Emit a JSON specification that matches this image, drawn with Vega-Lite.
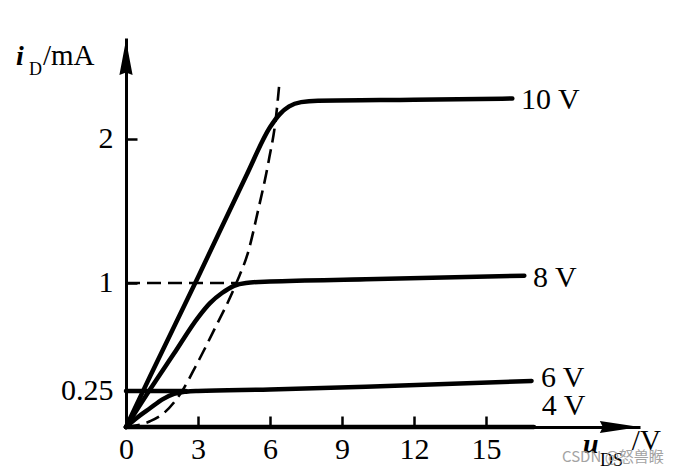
{
  "$schema": "https://vega.github.io/schema/vega-lite/v6.json",
  "width": 514,
  "height": 389,
  "autosize": {"type": "none"},
  "padding": {"left": 126, "top": 38, "right": 37, "bottom": 46},
  "background": "white",
  "config": {"view": {"stroke": null}, "font": "Liberation Serif"},
  "datasets": {
    "curves": [
      {"series": "10V", "u": 0, "i": 0},
      {"series": "10V", "u": 1, "i": 0.35},
      {"series": "10V", "u": 3, "i": 1.04},
      {"series": "10V", "u": 5, "i": 1.74},
      {"series": "10V", "u": 6, "i": 2.08},
      {"series": "10V", "u": 6.4, "i": 2.17},
      {"series": "10V", "u": 6.8, "i": 2.225},
      {"series": "10V", "u": 7.3, "i": 2.255},
      {"series": "10V", "u": 8, "i": 2.265},
      {"series": "10V", "u": 12, "i": 2.272},
      {"series": "10V", "u": 16.1, "i": 2.28},
      {"series": "8V", "u": 0, "i": 0},
      {"series": "8V", "u": 1, "i": 0.26},
      {"series": "8V", "u": 2, "i": 0.51},
      {"series": "8V", "u": 3, "i": 0.76},
      {"series": "8V", "u": 3.5, "i": 0.86},
      {"series": "8V", "u": 4, "i": 0.93},
      {"series": "8V", "u": 4.5, "i": 0.98},
      {"series": "8V", "u": 5, "i": 1.0},
      {"series": "8V", "u": 6, "i": 1.01},
      {"series": "8V", "u": 10, "i": 1.025},
      {"series": "8V", "u": 16.6, "i": 1.05},
      {"series": "6V", "u": 0, "i": 0},
      {"series": "6V", "u": 0.5, "i": 0.07},
      {"series": "6V", "u": 1, "i": 0.13},
      {"series": "6V", "u": 1.5, "i": 0.19},
      {"series": "6V", "u": 2, "i": 0.23},
      {"series": "6V", "u": 2.5, "i": 0.245},
      {"series": "6V", "u": 3, "i": 0.25},
      {"series": "6V", "u": 6, "i": 0.26},
      {"series": "6V", "u": 10, "i": 0.28},
      {"series": "6V", "u": 16.9, "i": 0.32},
      {"series": "4V", "u": 0, "i": 0},
      {"series": "4V", "u": 17, "i": 0},
      {"series": "ref0.25", "u": 0, "i": 0.25},
      {"series": "ref0.25", "u": 2.5, "i": 0.25}
    ],
    "dashed": [
      {"series": "boundary", "u": 0, "i": 0},
      {"series": "boundary", "u": 1.0, "i": 0.04},
      {"series": "boundary", "u": 1.6, "i": 0.1},
      {"series": "boundary", "u": 2.3, "i": 0.24},
      {"series": "boundary", "u": 2.9, "i": 0.42},
      {"series": "boundary", "u": 3.6, "i": 0.65},
      {"series": "boundary", "u": 4.6, "i": 1.0},
      {"series": "boundary", "u": 5.1, "i": 1.22},
      {"series": "boundary", "u": 5.5, "i": 1.5},
      {"series": "boundary", "u": 5.95, "i": 1.85},
      {"series": "boundary", "u": 6.25, "i": 2.15},
      {"series": "boundary", "u": 6.4, "i": 2.4},
      {"series": "ref1", "u": 0, "i": 1},
      {"series": "ref1", "u": 4.6, "i": 1}
    ],
    "arrows": [
      {"dir": "x", "u": 20.58, "i": 0},
      {"dir": "y", "u": 0, "i": 2.565}
    ],
    "serieslabels": [
      {"u": 16.46, "i": 2.207, "text": "10 V"},
      {"u": 16.96, "i": 0.972, "text": "8 V"},
      {"u": 17.29, "i": 0.278, "text": "6 V"},
      {"u": 17.33, "i": 0.083, "text": "4 V"}
    ],
    "titlemain": [
      {"u": -3.46, "i": 2.513, "text": "/mA"},
      {"u": 21.08, "i": -0.16, "text": "/V"}
    ],
    "titleitalic": [
      {"u": -4.58, "i": 2.513, "text": "i"},
      {"u": 19.04, "i": -0.18, "text": "u"}
    ],
    "titlesub": [
      {"u": -4.04, "i": 2.443, "text": "D"},
      {"u": 19.75, "i": -0.271, "text": "DS"}
    ],
    "watermark": [
      {"u": 18.17, "i": -0.243, "text": "CSDN @怒兽睺"}
    ]
  },
  "layer": [
    {
      "data": {"name": "curves"},
      "mark": {"type": "line", "interpolate": "monotone", "color": "black", "strokeWidth": 4.5, "strokeCap": "round"},
      "encoding": {
        "x": {
          "field": "u", "type": "quantitative",
          "scale": {"domain": [0, 21.42], "nice": false, "zero": false},
          "axis": {
            "values": [0, 3, 6, 9, 12, 15], "format": "~g", "grid": false, "title": null,
            "domainColor": "black", "domainWidth": 3,
            "tickColor": "black", "tickWidth": 2.5, "tickSize": -11,
            "labelFont": "Liberation Serif", "labelFontSize": 30, "labelColor": "black",
            "labelBaseline": "alphabetic", "labelPadding": 42, "labelFlush": false, "labelOverlap": false
          }
        },
        "y": {
          "field": "i", "type": "quantitative",
          "scale": {"domain": [0, 2.7], "nice": false},
          "axis": {
            "values": [0.25, 1, 2], "format": "~g", "grid": false, "title": null,
            "domainColor": "black", "domainWidth": 3,
            "tickColor": "black", "tickWidth": 2.5, "tickSize": -11,
            "labelFont": "Liberation Serif", "labelFontSize": 30, "labelColor": "black",
            "labelPadding": 24, "labelFlush": false, "labelOverlap": false
          }
        },
        "detail": {"field": "series"}
      }
    },
    {
      "data": {"name": "dashed"},
      "mark": {"type": "line", "interpolate": "monotone", "color": "black", "strokeWidth": 2.6, "strokeDash": [14, 7]},
      "encoding": {
        "x": {"field": "u", "type": "quantitative"},
        "y": {"field": "i", "type": "quantitative"},
        "detail": {"field": "series"}
      }
    },
    {
      "data": {"name": "arrows"},
      "mark": {"type": "point", "filled": true, "color": "black", "opacity": 1, "size": 1600},
      "encoding": {
        "x": {"field": "u", "type": "quantitative"},
        "y": {"field": "i", "type": "quantitative"},
        "shape": {
          "field": "dir", "type": "nominal", "legend": null,
          "scale": {"domain": ["x", "y"], "range": ["M1,0L-1,-0.3L-0.85,0L-1,0.3Z", "M0,-0.875L-0.33,0.875L0,0.75L0.33,0.875Z"]}
        }
      }
    },
    {
      "data": {"name": "serieslabels"},
      "mark": {"type": "text", "align": "left", "baseline": "alphabetic", "font": "Liberation Serif", "fontSize": 30, "color": "black"},
      "encoding": {
        "x": {"field": "u", "type": "quantitative"},
        "y": {"field": "i", "type": "quantitative"},
        "text": {"field": "text"}
      }
    },
    {
      "data": {"name": "titlemain"},
      "mark": {"type": "text", "align": "left", "baseline": "alphabetic", "font": "Liberation Serif", "fontSize": 29, "color": "black"},
      "encoding": {
        "x": {"field": "u", "type": "quantitative"},
        "y": {"field": "i", "type": "quantitative"},
        "text": {"field": "text"}
      }
    },
    {
      "data": {"name": "titleitalic"},
      "mark": {"type": "text", "align": "left", "baseline": "alphabetic", "font": "Liberation Serif", "fontSize": 28, "fontStyle": "italic", "fontWeight": "bold", "color": "black"},
      "encoding": {
        "x": {"field": "u", "type": "quantitative"},
        "y": {"field": "i", "type": "quantitative"},
        "text": {"field": "text"}
      }
    },
    {
      "data": {"name": "titlesub"},
      "mark": {"type": "text", "align": "left", "baseline": "alphabetic", "font": "Liberation Serif", "fontSize": 18, "color": "black"},
      "encoding": {
        "x": {"field": "u", "type": "quantitative"},
        "y": {"field": "i", "type": "quantitative"},
        "text": {"field": "text"}
      }
    },
    {
      "data": {"name": "watermark"},
      "mark": {"type": "text", "align": "left", "baseline": "alphabetic", "font": "Noto Sans CJK SC", "fontSize": 15, "color": "#9a9a9a", "opacity": 0.9},
      "encoding": {
        "x": {"field": "u", "type": "quantitative"},
        "y": {"field": "i", "type": "quantitative"},
        "text": {"field": "text"}
      }
    }
  ]
}
